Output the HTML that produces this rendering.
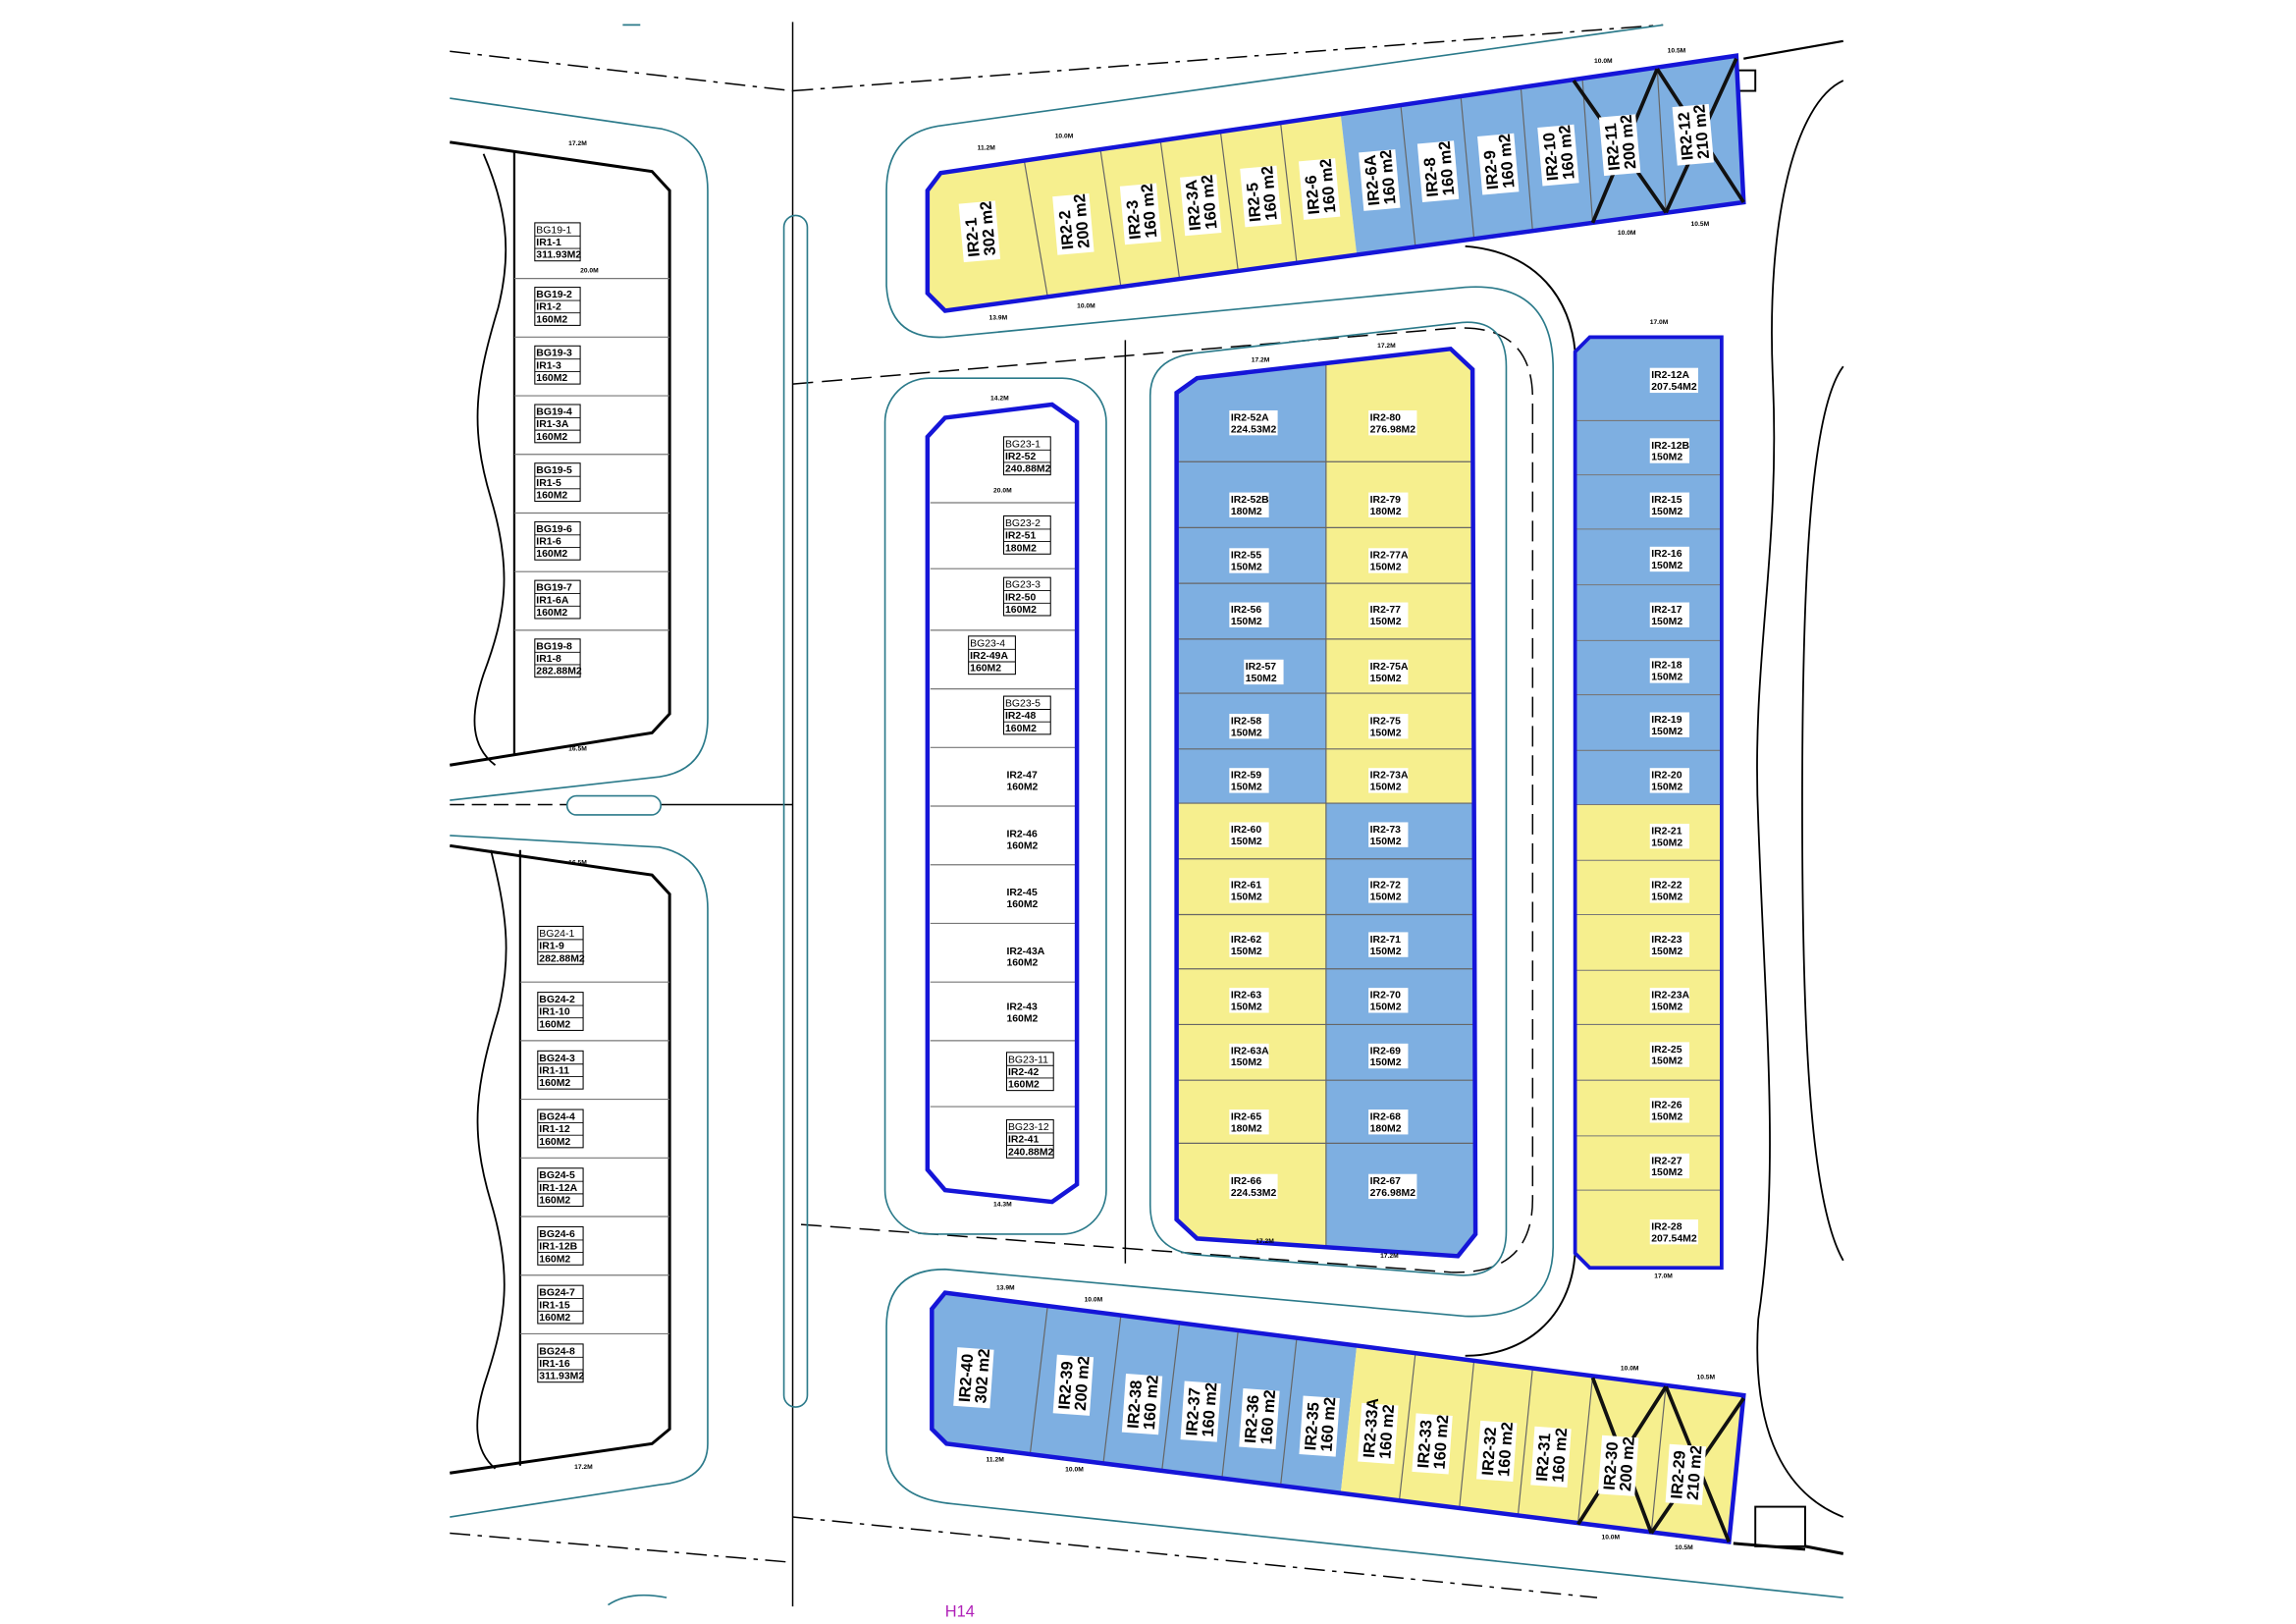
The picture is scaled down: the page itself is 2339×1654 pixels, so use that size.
<!DOCTYPE html>
<html><head><meta charset="utf-8"><style>
html,body{margin:0;padding:0;background:#fff}
svg{display:block}
text{font-family:"Liberation Sans",sans-serif}
.b{font-weight:bold;font-size:7px;fill:#000}
.L{font-weight:bold;font-size:11px;fill:#000}
.d{font-size:4.5px;font-weight:bold;fill:#000}
</style></head><body>
<svg width="2339" height="1654" viewBox="0 0 1567 1108" preserveAspectRatio="none" xmlns="http://www.w3.org/2000/svg">
<rect width="1567" height="1108" fill="#fff"/>
<g fill="none" stroke="#000" stroke-width="1">
<path d="M307,35 L541,62" stroke-dasharray="14,5,3,5"/>
<path d="M541,62 L1135,17" stroke-dasharray="14,5,3,5"/>
<path d="M541,262 L990,224 Q1046,220 1046,272 L1046,818 Q1046,870 990,868 L541,835" stroke-dasharray="14,6"/>
<path d="M307,549 L387,549" stroke-dasharray="10,5"/>
<path d="M451,549 L541,549"/>
<path d="M307,1046 L541,1066" stroke-dasharray="14,5,3,5"/>
<path d="M541,1035 L1090,1090" stroke-dasharray="14,5,3,5"/>
<path d="M541,15 L541,1096"/>
<path d="M768,232 L768,862"/>
<path d="M1000,168 C1050,172 1072,205 1075,240" stroke-width="1.3"/>
<path d="M1075,855 C1072,900 1040,925 1000,925" stroke-width="1.3"/>
<path d="M1258,55 C1225,70 1205,150 1210,260 C1215,380 1195,450 1200,560 C1205,700 1215,800 1200,900 C1195,980 1220,1020 1258,1035" stroke-width="1.2"/>
<path d="M1258,250 C1235,280 1230,400 1230,550 C1230,700 1235,820 1258,860" stroke-width="1.2"/>
<path d="M1190,40 L1258,28" stroke-width="1.5"/>
<path d="M1232,1055 L1258,1060" stroke-width="2"/>
<path d="M1183,1053 L1232,1057" stroke-width="2"/>
<rect x="1185" y="48" width="13" height="14" stroke-width="1.3"/>
<rect x="1198" y="1028" width="34" height="27" stroke-width="1.3"/>
</g>
<g fill="none" stroke="#2b7a8a" stroke-width="1.1">
<path d="M425,17 L437,17"/>
<rect x="535" y="147" width="16" height="813" rx="8"/>
<rect x="387" y="543" width="64" height="13" rx="6.5"/>
<path d="M307,67 L452,88 Q483,95 483,130 L483,490 Q483,525 450,530 L307,546"/>
<path d="M307,570 L450,578 Q483,585 483,620 L483,985 Q483,1010 450,1013 L307,1035"/>
<path d="M1135,17 L640,86 Q605,92 605,130 L605,195 Q607,232 645,230 L1000,196 Q1060,192 1060,252 L1060,850 Q1060,900 1000,898 L645,866 Q605,866 605,905 L605,990 Q607,1022 650,1026 L1258,1090"/>
<rect x="604" y="258" width="151" height="584" rx="30"/>
<path d="M785,270 Q785,245 815,241 L998,220 Q1028,218 1028,250 L1028,840 Q1028,872 995,870 L815,856 Q785,852 785,822 Z"/>
<path d="M415,1095 Q430,1085 455,1090"/>
</g>
<g fill="none" stroke="#000">
<path d="M307,97 L445,117 L457,130 L457,487 L445,500 L307,522" stroke-width="2"/>
<path d="M351,104 L351,515" stroke-width="1.5"/>
<path d="M330,105 C345,140 350,170 340,210 C325,260 320,290 335,340 C350,390 345,420 330,460 C320,490 322,510 338,522" stroke-width="1.2"/>
<path d="M307,577 L445,597 L457,610 L457,975 L445,985 L307,1005" stroke-width="2"/>
<path d="M355,580 L355,1000" stroke-width="1.5"/>
<path d="M335,580 C345,620 350,650 340,690 C325,740 320,770 335,820 C350,870 345,900 332,940 C322,970 324,990 338,1002" stroke-width="1.2"/>
<g stroke="#777" stroke-width="0.8">
<path d="M351,190H457M351,230H457M351,270H457M351,310H457M351,350H457M351,390H457M351,430H457"/>
<path d="M355,670H457M355,710H457M355,750H457M355,790H457M355,830H457M355,870H457M355,910H457"/>
<path d="M635,343H735M635,388H735M635,430H735M635,470H735M635,510H735M635,550H735M635,590H735M635,630H735M635,670H735M635,710H735M635,755H735"/>
</g>
</g>
<g class="b" font-size="6.5">
<g transform="translate(365,152)"><rect width="31" height="26" fill="#fff" stroke="#000" stroke-width=".7"/><path d="M0,9H31M0,17.5H31" stroke="#000" stroke-width=".6"/><text x="1" y="7" font-weight="normal">BG19-1</text><text x="1" y="15.5">IR1-1</text><text x="1" y="24">311.93M2</text></g>
<g transform="translate(365,196)"><rect width="31" height="26" fill="#fff" stroke="#000" stroke-width=".7"/><path d="M0,9H31M0,17.5H31" stroke="#000" stroke-width=".6"/><text x="1" y="7">BG19-2</text><text x="1" y="15.5">IR1-2</text><text x="1" y="24">160M2</text></g>
<g transform="translate(365,236)"><rect width="31" height="26" fill="#fff" stroke="#000" stroke-width=".7"/><path d="M0,9H31M0,17.5H31" stroke="#000" stroke-width=".6"/><text x="1" y="7">BG19-3</text><text x="1" y="15.5">IR1-3</text><text x="1" y="24">160M2</text></g>
<g transform="translate(365,276)"><rect width="31" height="26" fill="#fff" stroke="#000" stroke-width=".7"/><path d="M0,9H31M0,17.5H31" stroke="#000" stroke-width=".6"/><text x="1" y="7">BG19-4</text><text x="1" y="15.5">IR1-3A</text><text x="1" y="24">160M2</text></g>
<g transform="translate(365,316)"><rect width="31" height="26" fill="#fff" stroke="#000" stroke-width=".7"/><path d="M0,9H31M0,17.5H31" stroke="#000" stroke-width=".6"/><text x="1" y="7">BG19-5</text><text x="1" y="15.5">IR1-5</text><text x="1" y="24">160M2</text></g>
<g transform="translate(365,356)"><rect width="31" height="26" fill="#fff" stroke="#000" stroke-width=".7"/><path d="M0,9H31M0,17.5H31" stroke="#000" stroke-width=".6"/><text x="1" y="7">BG19-6</text><text x="1" y="15.5">IR1-6</text><text x="1" y="24">160M2</text></g>
<g transform="translate(365,396)"><rect width="31" height="26" fill="#fff" stroke="#000" stroke-width=".7"/><path d="M0,9H31M0,17.5H31" stroke="#000" stroke-width=".6"/><text x="1" y="7">BG19-7</text><text x="1" y="15.5">IR1-6A</text><text x="1" y="24">160M2</text></g>
<g transform="translate(365,436)"><rect width="31" height="26" fill="#fff" stroke="#000" stroke-width=".7"/><path d="M0,9H31M0,17.5H31" stroke="#000" stroke-width=".6"/><text x="1" y="7">BG19-8</text><text x="1" y="15.5">IR1-8</text><text x="1" y="24">282.88M2</text></g>
<g transform="translate(367,632)"><rect width="31" height="26" fill="#fff" stroke="#000" stroke-width=".7"/><path d="M0,9H31M0,17.5H31" stroke="#000" stroke-width=".6"/><text x="1" y="7" font-weight="normal">BG24-1</text><text x="1" y="15.5">IR1-9</text><text x="1" y="24">282.88M2</text></g>
<g transform="translate(367,677)"><rect width="31" height="26" fill="#fff" stroke="#000" stroke-width=".7"/><path d="M0,9H31M0,17.5H31" stroke="#000" stroke-width=".6"/><text x="1" y="7">BG24-2</text><text x="1" y="15.5">IR1-10</text><text x="1" y="24">160M2</text></g>
<g transform="translate(367,717)"><rect width="31" height="26" fill="#fff" stroke="#000" stroke-width=".7"/><path d="M0,9H31M0,17.5H31" stroke="#000" stroke-width=".6"/><text x="1" y="7">BG24-3</text><text x="1" y="15.5">IR1-11</text><text x="1" y="24">160M2</text></g>
<g transform="translate(367,757)"><rect width="31" height="26" fill="#fff" stroke="#000" stroke-width=".7"/><path d="M0,9H31M0,17.5H31" stroke="#000" stroke-width=".6"/><text x="1" y="7">BG24-4</text><text x="1" y="15.5">IR1-12</text><text x="1" y="24">160M2</text></g>
<g transform="translate(367,797)"><rect width="31" height="26" fill="#fff" stroke="#000" stroke-width=".7"/><path d="M0,9H31M0,17.5H31" stroke="#000" stroke-width=".6"/><text x="1" y="7">BG24-5</text><text x="1" y="15.5">IR1-12A</text><text x="1" y="24">160M2</text></g>
<g transform="translate(367,837)"><rect width="31" height="26" fill="#fff" stroke="#000" stroke-width=".7"/><path d="M0,9H31M0,17.5H31" stroke="#000" stroke-width=".6"/><text x="1" y="7">BG24-6</text><text x="1" y="15.5">IR1-12B</text><text x="1" y="24">160M2</text></g>
<g transform="translate(367,877)"><rect width="31" height="26" fill="#fff" stroke="#000" stroke-width=".7"/><path d="M0,9H31M0,17.5H31" stroke="#000" stroke-width=".6"/><text x="1" y="7">BG24-7</text><text x="1" y="15.5">IR1-15</text><text x="1" y="24">160M2</text></g>
<g transform="translate(367,917)"><rect width="31" height="26" fill="#fff" stroke="#000" stroke-width=".7"/><path d="M0,9H31M0,17.5H31" stroke="#000" stroke-width=".6"/><text x="1" y="7">BG24-8</text><text x="1" y="15.5">IR1-16</text><text x="1" y="24">311.93M2</text></g>
<g transform="translate(685,298)"><rect width="32" height="26" fill="#fff" stroke="#000" stroke-width=".7"/><path d="M0,9H32M0,17.5H32" stroke="#000" stroke-width=".6"/><text x="1" y="7" font-weight="normal">BG23-1</text><text x="1" y="15.5">IR2-52</text><text x="1" y="24">240.88M2</text></g>
<g transform="translate(685,352)"><rect width="32" height="26" fill="#fff" stroke="#000" stroke-width=".7"/><path d="M0,9H32M0,17.5H32" stroke="#000" stroke-width=".6"/><text x="1" y="7" font-weight="normal">BG23-2</text><text x="1" y="15.5">IR2-51</text><text x="1" y="24">180M2</text></g>
<g transform="translate(685,394)"><rect width="32" height="26" fill="#fff" stroke="#000" stroke-width=".7"/><path d="M0,9H32M0,17.5H32" stroke="#000" stroke-width=".6"/><text x="1" y="7" font-weight="normal">BG23-3</text><text x="1" y="15.5">IR2-50</text><text x="1" y="24">160M2</text></g>
<g transform="translate(661,434)"><rect width="32" height="26" fill="#fff" stroke="#000" stroke-width=".7"/><path d="M0,9H32M0,17.5H32" stroke="#000" stroke-width=".6"/><text x="1" y="7" font-weight="normal">BG23-4</text><text x="1" y="15.5">IR2-49A</text><text x="1" y="24">160M2</text></g>
<g transform="translate(685,475)"><rect width="32" height="26" fill="#fff" stroke="#000" stroke-width=".7"/><path d="M0,9H32M0,17.5H32" stroke="#000" stroke-width=".6"/><text x="1" y="7" font-weight="normal">BG23-5</text><text x="1" y="15.5">IR2-48</text><text x="1" y="24">160M2</text></g>
<g transform="translate(687,718)"><rect width="32" height="26" fill="#fff" stroke="#000" stroke-width=".7"/><path d="M0,9H32M0,17.5H32" stroke="#000" stroke-width=".6"/><text x="1" y="7" font-weight="normal">BG23-11</text><text x="1" y="15.5">IR2-42</text><text x="1" y="24">160M2</text></g>
<g transform="translate(687,764)"><rect width="32" height="26" fill="#fff" stroke="#000" stroke-width=".7"/><path d="M0,9H32M0,17.5H32" stroke="#000" stroke-width=".6"/><text x="1" y="7" font-weight="normal">BG23-12</text><text x="1" y="15.5">IR2-41</text><text x="1" y="24">240.88M2</text></g>
<text x="687" y="531">IR2-47</text><text x="687" y="539">160M2</text>
<text x="687" y="571">IR2-46</text><text x="687" y="579">160M2</text>
<text x="687" y="611">IR2-45</text><text x="687" y="619">160M2</text>
<text x="687" y="651">IR2-43A</text><text x="687" y="659">160M2</text>
<text x="687" y="689">IR2-43</text><text x="687" y="697">160M2</text>
</g>
<path d="M633,298 L645,285 L718,276 L735,288 L735,808 L718,820 L645,812 L633,798 Z" fill="none" stroke="#1515d8" stroke-width="3"/>
<path d="M803,268 L817,258 L905,248 L905,548 L803,548 Z" fill="#7eafe1"/>
<path d="M803,548 L905,548 L905,851 L817,845 L803,832 Z" fill="#f6ef8e"/>
<path d="M905,248 L990,238 L1005,252 L1006,548 L905,548 Z" fill="#f6ef8e"/>
<path d="M905,548 L1006,548 L1007,842 L995,857 L905,851 Z" fill="#7eafe1"/>
<g stroke="#666" stroke-width="0.8">
<path d="M905,248V851"/>
<path d="M803,315H1006M803,360H1006M803,398H1006M803,436H1006M803,473H1006M803,511H1006M803,548H1006M803,586H1006M803,624H1006M803,661H1006M803,699H1006M803,737H1006M803,780H1006"/>
</g>
<path d="M803,268 L817,258 L990,238 L1005,252 L1007,842 L995,857 L817,845 L803,832 Z" fill="none" stroke="#1515d8" stroke-width="3"/>
<path d="M1075,240 L1085,230 L1175,230 L1175,549 L1075,549 Z" fill="#7eafe1"/>
<path d="M1075,549 L1175,549 L1175,865 L1085,865 L1075,855 Z" fill="#f6ef8e"/>
<path d="M1075,287H1175M1075,324H1175M1075,361H1175M1075,399H1175M1075,437H1175M1075,474H1175M1075,512H1175M1075,549H1175M1075,587H1175M1075,624H1175M1075,662H1175M1075,699H1175M1075,737H1175M1075,775H1175M1075,812H1175" stroke="#777" stroke-width="0.7"/>
<path d="M1075,240 L1085,230 L1175,230 L1175,865 L1085,865 L1075,855 Z" fill="none" stroke="#1515d8" stroke-width="2.5"/>
<g class="b">
<g fill="#fff"><rect x="839" y="280" width="33" height="17"/><rect x="839" y="336" width="27" height="17"/><rect x="839" y="374" width="27" height="17"/><rect x="839" y="411" width="27" height="17"/><rect x="849" y="450" width="27" height="17"/><rect x="839" y="487" width="27" height="17"/><rect x="839" y="524" width="27" height="17"/><rect x="839" y="561" width="27" height="17"/><rect x="839" y="599" width="27" height="17"/><rect x="839" y="636" width="27" height="17"/><rect x="839" y="674" width="27" height="17"/><rect x="839" y="712" width="27" height="17"/><rect x="839" y="757" width="27" height="17"/><rect x="839" y="801" width="33" height="17"/>
<rect x="934" y="280" width="33" height="17"/><rect x="934" y="336" width="27" height="17"/><rect x="934" y="374" width="27" height="17"/><rect x="934" y="411" width="27" height="17"/><rect x="934" y="450" width="27" height="17"/><rect x="934" y="487" width="27" height="17"/><rect x="934" y="524" width="27" height="17"/><rect x="934" y="561" width="27" height="17"/><rect x="934" y="599" width="27" height="17"/><rect x="934" y="636" width="27" height="17"/><rect x="934" y="674" width="27" height="17"/><rect x="934" y="712" width="27" height="17"/><rect x="934" y="757" width="27" height="17"/><rect x="934" y="801" width="33" height="17"/>
<rect x="1126" y="251" width="33" height="17"/><rect x="1126" y="299" width="27" height="17"/><rect x="1126" y="336" width="27" height="17"/><rect x="1126" y="373" width="27" height="17"/><rect x="1126" y="411" width="27" height="17"/><rect x="1126" y="449" width="27" height="17"/><rect x="1126" y="486" width="27" height="17"/><rect x="1126" y="524" width="27" height="17"/><rect x="1126" y="562" width="27" height="17"/><rect x="1126" y="599" width="27" height="17"/><rect x="1126" y="636" width="27" height="17"/><rect x="1126" y="674" width="27" height="17"/><rect x="1126" y="711" width="27" height="17"/><rect x="1126" y="749" width="27" height="17"/><rect x="1126" y="787" width="27" height="17"/><rect x="1126" y="832" width="33" height="17"/></g>
<text x="840" y="287">IR2-52A</text><text x="840" y="295">224.53M2</text>
<text x="840" y="343">IR2-52B</text><text x="840" y="351">180M2</text>
<text x="840" y="381">IR2-55</text><text x="840" y="389">150M2</text>
<text x="840" y="418">IR2-56</text><text x="840" y="426">150M2</text>
<text x="850" y="457">IR2-57</text><text x="850" y="465">150M2</text>
<text x="840" y="494">IR2-58</text><text x="840" y="502">150M2</text>
<text x="840" y="531">IR2-59</text><text x="840" y="539">150M2</text>
<text x="840" y="568">IR2-60</text><text x="840" y="576">150M2</text>
<text x="840" y="606">IR2-61</text><text x="840" y="614">150M2</text>
<text x="840" y="643">IR2-62</text><text x="840" y="651">150M2</text>
<text x="840" y="681">IR2-63</text><text x="840" y="689">150M2</text>
<text x="840" y="719">IR2-63A</text><text x="840" y="727">150M2</text>
<text x="840" y="764">IR2-65</text><text x="840" y="772">180M2</text>
<text x="840" y="808">IR2-66</text><text x="840" y="816">224.53M2</text>
<text x="935" y="287">IR2-80</text><text x="935" y="295">276.98M2</text>
<text x="935" y="343">IR2-79</text><text x="935" y="351">180M2</text>
<text x="935" y="381">IR2-77A</text><text x="935" y="389">150M2</text>
<text x="935" y="418">IR2-77</text><text x="935" y="426">150M2</text>
<text x="935" y="457">IR2-75A</text><text x="935" y="465">150M2</text>
<text x="935" y="494">IR2-75</text><text x="935" y="502">150M2</text>
<text x="935" y="531">IR2-73A</text><text x="935" y="539">150M2</text>
<text x="935" y="568">IR2-73</text><text x="935" y="576">150M2</text>
<text x="935" y="606">IR2-72</text><text x="935" y="614">150M2</text>
<text x="935" y="643">IR2-71</text><text x="935" y="651">150M2</text>
<text x="935" y="681">IR2-70</text><text x="935" y="689">150M2</text>
<text x="935" y="719">IR2-69</text><text x="935" y="727">150M2</text>
<text x="935" y="764">IR2-68</text><text x="935" y="772">180M2</text>
<text x="935" y="808">IR2-67</text><text x="935" y="816">276.98M2</text>
<text x="1127" y="258">IR2-12A</text><text x="1127" y="266">207.54M2</text>
<text x="1127" y="306">IR2-12B</text><text x="1127" y="314">150M2</text>
<text x="1127" y="343">IR2-15</text><text x="1127" y="351">150M2</text>
<text x="1127" y="380">IR2-16</text><text x="1127" y="388">150M2</text>
<text x="1127" y="418">IR2-17</text><text x="1127" y="426">150M2</text>
<text x="1127" y="456">IR2-18</text><text x="1127" y="464">150M2</text>
<text x="1127" y="493">IR2-19</text><text x="1127" y="501">150M2</text>
<text x="1127" y="531">IR2-20</text><text x="1127" y="539">150M2</text>
<text x="1127" y="569">IR2-21</text><text x="1127" y="577">150M2</text>
<text x="1127" y="606">IR2-22</text><text x="1127" y="614">150M2</text>
<text x="1127" y="643">IR2-23</text><text x="1127" y="651">150M2</text>
<text x="1127" y="681">IR2-23A</text><text x="1127" y="689">150M2</text>
<text x="1127" y="718">IR2-25</text><text x="1127" y="726">150M2</text>
<text x="1127" y="756">IR2-26</text><text x="1127" y="764">150M2</text>
<text x="1127" y="794">IR2-27</text><text x="1127" y="802">150M2</text>
<text x="1127" y="839">IR2-28</text><text x="1127" y="847">207.54M2</text>
</g>
<path d="M633,130 L642,118 L915,78 L926,173.8 L645,212 L633,200 Z" fill="#f6ef8e"/>
<path d="M915,78 L1185,38 L1190,138 L926,173.8 Z" fill="#7eafe1"/>
<path d="M699,109.6L715,202.5M751,102L765,195.7M792,96L805,190.2M833,90L845,184.8M874,84L885,179.4M956,72L966,168.3M997,66L1006,162.9M1038,60L1046,157.5M1080,54L1087,151.9M1131,46.5L1137,145.1" stroke="#666" stroke-width="0.8" fill="none"/>
<path d="M633,130 L642,118 L1185,38 L1190,138 L645,212 L633,200 Z" fill="none" stroke="#1515d8" stroke-width="3"/>
<path d="M1074,55 L1137,145 M1131,47 L1087,152 M1131,47 L1190,138 M1185,40 L1137,145" stroke="#111" stroke-width="2.5" fill="none"/>
<path d="M645,882 L926,918.1 L915,1018.8 L646,985 L636,975 L636,893 Z" fill="#7eafe1"/>
<path d="M926,918.1 L1190,952 L1180,1052 L915,1018.8 Z" fill="#f6ef8e"/>
<path d="M715,891L703,992.2M765,897.4L753,998.4M805,902.6L793,1003.5M845,907.7L834,1008.6M885,912.9L874,1013.6M966,923.3L955,1023.8M1006,928.4L996,1029M1046,933.5L1036,1034M1087,938.8L1077,1039.1M1137,945.2L1127,1045.4" stroke="#666" stroke-width="0.8" fill="none"/>
<path d="M645,882 L1190,952 L1180,1052 L646,985 L636,975 L636,893 Z" fill="none" stroke="#1515d8" stroke-width="3"/>
<path d="M1087,940 L1127,1046 M1137,946 L1077,1040 M1137,946 L1180,1052 M1190,954 L1127,1046" stroke="#111" stroke-width="2.5" fill="none"/>
<g class="L">
<g transform="translate(668,158) rotate(-95)"><rect x="-20" y="-12" width="40" height="25" fill="#fff"/><text x="-17" y="-1">IR2-1</text><text x="-17" y="10">302 m2</text></g>
<g transform="translate(732,153) rotate(-95)"><rect x="-20" y="-12" width="40" height="25" fill="#fff"/><text x="-17" y="-1">IR2-2</text><text x="-17" y="10">200 m2</text></g>
<g transform="translate(778,146) rotate(-95)"><rect x="-20" y="-12" width="40" height="25" fill="#fff"/><text x="-17" y="-1">IR2-3</text><text x="-17" y="10">160 m2</text></g>
<g transform="translate(819,140) rotate(-95)"><rect x="-20" y="-12" width="40" height="25" fill="#fff"/><text x="-17" y="-1">IR2-3A</text><text x="-17" y="10">160 m2</text></g>
<g transform="translate(860,134) rotate(-95)"><rect x="-20" y="-12" width="40" height="25" fill="#fff"/><text x="-17" y="-1">IR2-5</text><text x="-17" y="10">160 m2</text></g>
<g transform="translate(900,129) rotate(-95)"><rect x="-20" y="-12" width="40" height="25" fill="#fff"/><text x="-17" y="-1">IR2-6</text><text x="-17" y="10">160 m2</text></g>
<g transform="translate(941,123) rotate(-95)"><rect x="-20" y="-12" width="40" height="25" fill="#fff"/><text x="-17" y="-1">IR2-6A</text><text x="-17" y="10">160 m2</text></g>
<g transform="translate(981,117) rotate(-95)"><rect x="-20" y="-12" width="40" height="25" fill="#fff"/><text x="-17" y="-1">IR2-8</text><text x="-17" y="10">160 m2</text></g>
<g transform="translate(1022,112) rotate(-95)"><rect x="-20" y="-12" width="40" height="25" fill="#fff"/><text x="-17" y="-1">IR2-9</text><text x="-17" y="10">160 m2</text></g>
<g transform="translate(1063,106) rotate(-95)"><rect x="-20" y="-12" width="40" height="25" fill="#fff"/><text x="-17" y="-1">IR2-10</text><text x="-17" y="10">160 m2</text></g>
<g transform="translate(1105,99) rotate(-95)"><rect x="-20" y="-12" width="40" height="25" fill="#fff"/><text x="-17" y="-1">IR2-11</text><text x="-17" y="10">200 m2</text></g>
<g transform="translate(1155,92) rotate(-95)"><rect x="-20" y="-12" width="40" height="25" fill="#fff"/><text x="-17" y="-1">IR2-12</text><text x="-17" y="10">210 m2</text></g>
<g transform="translate(664,940) rotate(-86)"><rect x="-20" y="-12" width="40" height="25" fill="#fff"/><text x="-17" y="-1">IR2-40</text><text x="-17" y="10">302 m2</text></g>
<g transform="translate(732,945) rotate(-86)"><rect x="-20" y="-12" width="40" height="25" fill="#fff"/><text x="-17" y="-1">IR2-39</text><text x="-17" y="10">200 m2</text></g>
<g transform="translate(779,958) rotate(-86)"><rect x="-20" y="-12" width="40" height="25" fill="#fff"/><text x="-17" y="-1">IR2-38</text><text x="-17" y="10">160 m2</text></g>
<g transform="translate(819,963) rotate(-86)"><rect x="-20" y="-12" width="40" height="25" fill="#fff"/><text x="-17" y="-1">IR2-37</text><text x="-17" y="10">160 m2</text></g>
<g transform="translate(859,968) rotate(-86)"><rect x="-20" y="-12" width="40" height="25" fill="#fff"/><text x="-17" y="-1">IR2-36</text><text x="-17" y="10">160 m2</text></g>
<g transform="translate(900,973) rotate(-86)"><rect x="-20" y="-12" width="40" height="25" fill="#fff"/><text x="-17" y="-1">IR2-35</text><text x="-17" y="10">160 m2</text></g>
<g transform="translate(940,978) rotate(-86)"><rect x="-20" y="-12" width="40" height="25" fill="#fff"/><text x="-17" y="-1">IR2-33A</text><text x="-17" y="10">160 m2</text></g>
<g transform="translate(977,985) rotate(-86)"><rect x="-20" y="-12" width="40" height="25" fill="#fff"/><text x="-17" y="-1">IR2-33</text><text x="-17" y="10">160 m2</text></g>
<g transform="translate(1021,990) rotate(-86)"><rect x="-20" y="-12" width="40" height="25" fill="#fff"/><text x="-17" y="-1">IR2-32</text><text x="-17" y="10">160 m2</text></g>
<g transform="translate(1058,994) rotate(-86)"><rect x="-20" y="-12" width="40" height="25" fill="#fff"/><text x="-17" y="-1">IR2-31</text><text x="-17" y="10">160 m2</text></g>
<g transform="translate(1104,1000) rotate(-86)"><rect x="-20" y="-12" width="40" height="25" fill="#fff"/><text x="-17" y="-1">IR2-30</text><text x="-17" y="10">200 m2</text></g>
<g transform="translate(1150,1006) rotate(-86)"><rect x="-20" y="-12" width="40" height="25" fill="#fff"/><text x="-17" y="-1">IR2-29</text><text x="-17" y="10">210 m2</text></g>
</g>
<g class="d">
<text x="388" y="99">17.2M</text><text x="396" y="186">20.0M</text><text x="388" y="512">16.5M</text>
<text x="388" y="590">16.5M</text><text x="392" y="1002">17.2M</text>
<text x="676" y="273">14.2M</text><text x="678" y="336">20.0M</text><text x="678" y="823">14.3M</text>
<text x="854" y="247">17.2M</text><text x="940" y="237">17.2M</text><text x="857" y="848">17.2M</text><text x="942" y="858">17.2M</text>
<text x="1126" y="221">17.0M</text><text x="1129" y="872">17.0M</text>
<text x="667" y="102">11.2M</text><text x="720" y="94">10.0M</text><text x="675" y="218">13.9M</text><text x="735" y="210">10.0M</text>
<text x="680" y="880">13.9M</text><text x="740" y="888">10.0M</text><text x="673" y="997">11.2M</text><text x="727" y="1004">10.0M</text>
<text x="1088" y="43">10.0M</text><text x="1138" y="36">10.5M</text><text x="1104" y="160">10.0M</text><text x="1154" y="154">10.5M</text>
<text x="1106" y="935">10.0M</text><text x="1158" y="941">10.5M</text><text x="1093" y="1050">10.0M</text><text x="1143" y="1057">10.5M</text>
</g>
<text x="645" y="1103" font-size="11" fill="#b020b8" font-family="Liberation Sans,sans-serif">H14</text>
</svg>
</body></html>
